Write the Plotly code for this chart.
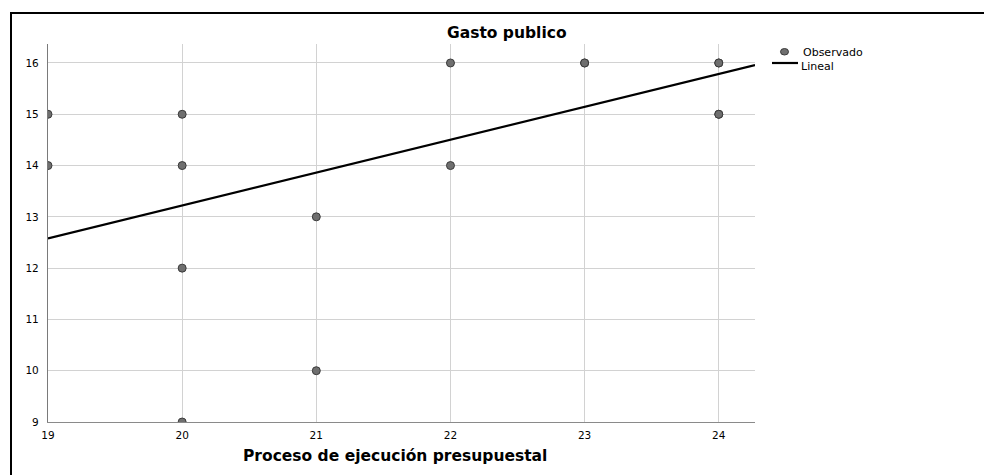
import plotly.graph_objects as go

# Observed data (Proceso de ejecución presupuestal vs Gasto publico)
obs_x = [19, 19, 20, 20, 20, 20, 21, 21, 22, 22, 23, 23, 24, 24, 24, 24]
obs_y = [15, 14, 15, 14, 12, 9, 13, 10, 16, 14, 16, 16, 16, 16, 15, 15]

# Linear fit line
fit_x = [19, 24.27]
fit_y = [12.58, 15.96]

x_ticks = [19, 20, 21, 22, 23, 24]
y_ticks = [9, 10, 11, 12, 13, 14, 15, 16]

OFF = 8  # default page body margin
W, H = 992 - OFF, 475 - OFF
# plot area in reference (window) pixels
L, R, T, B = 48, 755, 44, 422
pw, ph = R - L, B - T

def px(xp):
    return (xp - L) / pw

def py(yp):
    return (B - yp) / ph

FONT = "DejaVu Sans, Verdana, sans-serif"

fig = go.Figure()
fig.add_trace(go.Scatter(
    x=fit_x, y=fit_y, mode="lines", name="Lineal",
    line=dict(color="#000000", width=2.2), showlegend=False,
))
fig.add_trace(go.Scatter(
    x=obs_x, y=obs_y, mode="markers", name="Observado",
    marker=dict(size=8, color="#6f6f6f", line=dict(color="#3a3a3a", width=1)),
    showlegend=False, cliponaxis=True,
))

shapes = [
    # outer frame
    dict(type="rect", xref="paper", yref="paper",
         x0=px(11), x1=px(1100), y0=py(600), y1=py(13),
         line=dict(color="#000000", width=2), fillcolor="rgba(0,0,0,0)", layer="above"),
    # legend: marker
    dict(type="circle", xref="paper", yref="paper",
         x0=px(780.5), x1=px(788.5), y0=py(55), y1=py(48.5),
         line=dict(color="#3a3a3a", width=1), fillcolor="#6f6f6f"),
    # legend: line
    dict(type="line", xref="paper", yref="paper",
         x0=px(772), x1=px(798), y0=py(63), y1=py(63),
         line=dict(color="#000000", width=2.2)),
]

annotations = [
    dict(text="<b>Gasto publico</b>", xref="paper", yref="paper",
         x=px(507), y=py(33), showarrow=False, xanchor="center", yanchor="middle",
         font=dict(family=FONT, size=15.5, color="#000000")),
    dict(text="<b>Proceso de ejecución presupuestal</b>", xref="paper", yref="paper",
         x=px(395), y=py(456), showarrow=False, xanchor="center", yanchor="middle",
         font=dict(family=FONT, size=15.5, color="#000000")),
    dict(text="Observado", xref="paper", yref="paper",
         x=px(801), y=py(52), showarrow=False, xanchor="left", yanchor="middle",
         font=dict(family=FONT, size=11, color="#000000")),
    dict(text="Lineal", xref="paper", yref="paper",
         x=px(799), y=py(66), showarrow=False, xanchor="left", yanchor="middle",
         font=dict(family=FONT, size=11, color="#000000")),
]

fig.update_layout(
    width=W, height=H,
    margin=dict(l=L - OFF, r=W - (R - OFF), t=T - OFF, b=H - (B - OFF), pad=0),
    paper_bgcolor="#ffffff", plot_bgcolor="#ffffff",
    showlegend=False,
    shapes=shapes, annotations=annotations,
    font=dict(family=FONT, size=10, color="#000000"),
)
fig.update_xaxes(
    range=[19, 24.27], tickmode="array", tickvals=x_ticks,
    ticktext=[str(v) for v in x_ticks],
    showgrid=True, gridcolor="#d2d2d2", gridwidth=1.3,
    showline=True, linecolor="#8a8a8a", linewidth=1.3,
    zeroline=False, ticks="", ticklabelstandoff=3,
    tickfont=dict(family=FONT, size=10.5, color="#000000"),
)
fig.update_yaxes(
    range=[9, 16.37], tickmode="array", tickvals=y_ticks,
    ticktext=[str(v) for v in y_ticks],
    showgrid=True, gridcolor="#d2d2d2", gridwidth=1.3,
    showline=True, linecolor="#7a7a7a", linewidth=1.3,
    zeroline=False, ticks="", ticklabelstandoff=6,
    tickfont=dict(family=FONT, size=10.5, color="#000000"),
)

fig.write_html("out.html")
